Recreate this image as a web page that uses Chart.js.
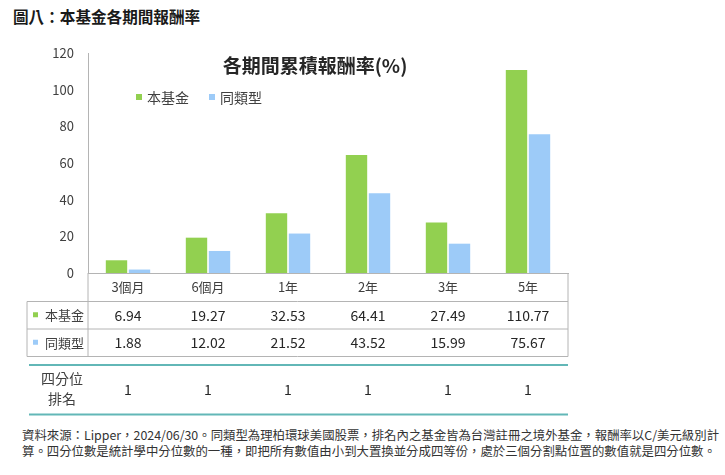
<!DOCTYPE html>
<html>
<head>
<meta charset="utf-8">
<script src="https://cdn.jsdelivr.net/npm/chart.js@4"></script>
<style>
  body { margin: 0; background: #fff; font-family: "Noto Sans CJK TC", "Noto Sans", sans-serif; }
  #page { position: relative; width: 725px; height: 475px; overflow: hidden; }
  #heading { position: absolute; left: 13px; top: 5px; font-size: 15.6px; font-weight: bold; color: #1a1a1a; white-space: nowrap; }
  #chartTitle { position: absolute; left: 315px; top: 51px; transform: translateX(-50%); font-size: 19px; font-weight: bold; color: #262626; white-space: nowrap; }
  #legend { position: absolute; left: 136px; top: 87px; font-size: 14px; color: #404040; white-space: nowrap; }
  #legend span.box { display: inline-block; width: 6px; height: 6px; margin-right: 5px; vertical-align: 3px; }
  #legend span.item { margin-right: 20px; }
  #chart { position: absolute; left: 0; top: 30px; }
  #note { position: absolute; left: 22px; top: 427px; font-size: 12.4px; line-height: 16px; color: #333; white-space: nowrap; }
</style>
</head>
<body>
<div id="page">
  <div id="heading">圖八：本基金各期間報酬率</div>
  <canvas id="chart" width="590" height="390"></canvas>
  <div id="chartTitle">各期間累積報酬率(%)</div>
  <div id="legend"></div>
  <div id="note">資料來源：Lipper，2024/06/30。同類型為理柏環球美國股票，排名內之基金皆為台灣註冊之境外基金，報酬率以C/美元級別計<br>算。四分位數是統計學中分位數的一種，即把所有數值由小到大置換並分成四等份，處於三個分割點位置的數值就是四分位數。</div>
</div>
<script>
const periods = ['3個月', '6個月', '1年', '2年', '3年', '5年'];
const fundReturns = [6.94, 19.27, 32.53, 64.41, 27.49, 110.77];
const peerReturns = [1.88, 12.02, 21.52, 43.52, 15.99, 75.67];
const quartileRanks = [1, 1, 1, 1, 1, 1];
const seriesNames = ['本基金', '同類型'];
const seriesColors = ['#92D050', '#9DCBF8'];

// legend sits inside the plot, like the original
document.getElementById('legend').innerHTML = seriesNames.map((n, i) =>
  `<span class="item"><span class="box" style="background:${seriesColors[i]}"></span>${n}</span>`
).join('');

const gridGray = '#b4b4b4';
const tableFont = '"Noto Sans CJK TC", "Noto Sans", sans-serif';

// data table under the x axis, columns taken from the x scale
const dataTable = {
  id: 'dataTable',
  afterDraw(chart) {
    const { ctx, chartArea } = chart;
    const x = chart.scales.x;
    const L = chartArea.left, R = chartArea.right, B = chartArea.bottom;
    const tableLeft = 27;
    const r1 = B + 28.5, r2 = B + 56, r3 = B + 83.5;
    const t1 = B + 92, t2 = B + 141.5;

    ctx.save();
    ctx.strokeStyle = gridGray;
    ctx.lineWidth = 1;
    ctx.beginPath();
    ctx.moveTo(L, B); ctx.lineTo(L, r3);
    ctx.moveTo(R, B); ctx.lineTo(R, r3);
    ctx.moveTo(tableLeft, r1); ctx.lineTo(tableLeft, r3);
    [r1, r2, r3].forEach(y => { ctx.moveTo(tableLeft, y); ctx.lineTo(R, y); });
    ctx.stroke();

    ctx.strokeStyle = '#62b7b7';
    ctx.lineWidth = 2;
    ctx.beginPath();
    ctx.moveTo(29, t1); ctx.lineTo(R, t1);
    ctx.moveTo(29, t2); ctx.lineTo(R, t2);
    ctx.stroke();

    ctx.textBaseline = 'middle';
    ctx.font = '13px ' + tableFont;
    const rowMid = [(r1 + r2) / 2, (r2 + r3) / 2];
    seriesNames.forEach((n, i) => {
      ctx.fillStyle = seriesColors[i];
      ctx.fillRect(33, rowMid[i] - 3, 5, 5);
      ctx.fillStyle = '#404040';
      ctx.textAlign = 'left';
      ctx.fillText(n, 45, rowMid[i]);
    });

    ctx.font = '14px ' + tableFont;
    ctx.fillStyle = '#262626';
    ctx.textAlign = 'center';
    [fundReturns, peerReturns].forEach((vals, i) => {
      vals.forEach((v, j) => ctx.fillText(v.toFixed(2), x.getPixelForValue(j), rowMid[i]));
    });

    // quartile rank row
    const qMid = (t1 + t2) / 2;
    ctx.fillStyle = '#404040';
    ctx.fillText('四分位', 62, qMid - 11);
    ctx.fillText('排名', 62, qMid + 9);
    ctx.fillStyle = '#262626';
    quartileRanks.forEach((v, j) => ctx.fillText(String(v), x.getPixelForValue(j), qMid));
    ctx.restore();
  }
};

new Chart(document.getElementById('chart'), {
  type: 'bar',
  data: {
    labels: periods,
    datasets: [
      { label: seriesNames[0], data: fundReturns, backgroundColor: seriesColors[0] },
      { label: seriesNames[1], data: peerReturns, backgroundColor: seriesColors[1] }
    ]
  },
  options: {
    responsive: false,
    animation: false,
    layout: { padding: { top: 23, right: 22, left: 0, bottom: 0 } },
    plugins: { legend: { display: false }, tooltip: { enabled: false } },
    datasets: { bar: { categoryPercentage: 0.575, barPercentage: 0.93 } },
    scales: {
      x: {
        grid: { display: false, drawTicks: false },
        border: { display: true, color: gridGray },
        ticks: { color: '#404040', font: { size: 13, family: tableFont }, padding: 6 },
        afterFit: s => { s.height = 147; }
      },
      y: {
        min: 0,
        max: 120,
        grid: { display: false, drawTicks: false },
        border: { display: true, color: gridGray },
        ticks: { stepSize: 20, color: '#404040', font: { size: 13, family: tableFont }, padding: 14 },
        afterFit: s => { s.width = 88; }
      }
    }
  },
  plugins: [dataTable]
});
</script>
</body>
</html>
